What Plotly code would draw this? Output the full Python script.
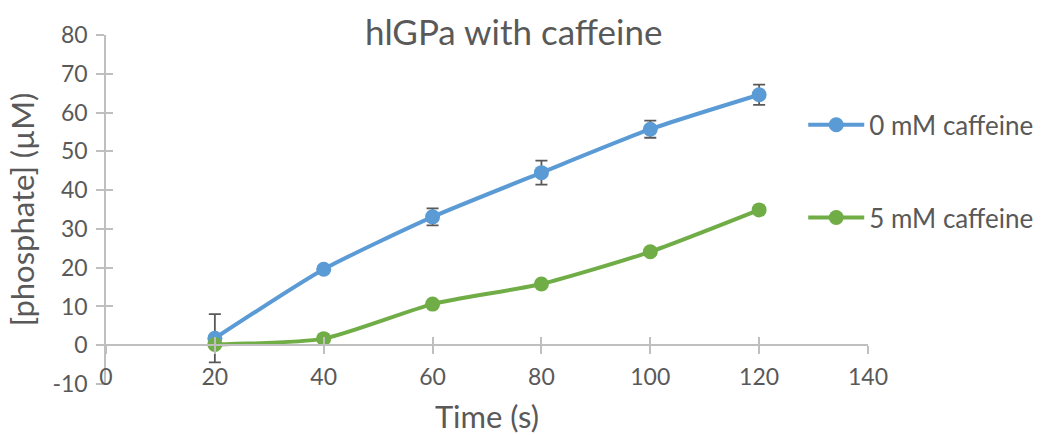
import plotly.graph_objects as go

# Reaction time points (s)
time_s = [20, 40, 60, 80, 100, 120]

# Released phosphate (µM) with standard deviations
phos_0mM = [1.8, 19.6, 33.1, 44.5, 55.7, 64.6]
err_0mM = [6.2, 0.8, 2.2, 3.1, 2.2, 2.6]
phos_5mM = [0.2, 1.7, 10.6, 15.8, 24.1, 34.9]

x_ticks = [0, 20, 40, 60, 80, 100, 120, 140]
y_ticks = [-10, 0, 10, 20, 30, 40, 50, 60, 70, 80]
y_tick_text = ["-10", "0", "10", "20", "30", "40", "50", "60", "70", "80"]

FONT = "Lato, 'Open Sans', sans-serif"
TEXT = "#595959"
AXIS = "#BFBFBF"
X_RANGE = [0, 140]
Y_RANGE = [-10, 80]
ZERO_POS = (0 - Y_RANGE[0]) / (Y_RANGE[1] - Y_RANGE[0])

fig = go.Figure()

fig.add_trace(go.Scatter(
    x=time_s, y=phos_0mM, name="0 mM caffeine", legendgroup="a",
    mode="lines+markers", line=dict(color="#5B9BD5", width=4, shape="spline", smoothing=0.6),
    marker=dict(color="#5B9BD5", size=15),
    error_y=dict(type="data", array=err_0mM, color="#595959", thickness=1.8, width=6),
))
fig.add_trace(go.Scatter(
    x=time_s, y=phos_5mM, name="5 mM caffeine", legendgroup="b",
    mode="lines+markers", line=dict(color="#70AD47", width=4, shape="spline", smoothing=0.6),
    marker=dict(color="#70AD47", size=15),
))

fig.update_layout(
    width=1044, height=435,
    margin=dict(l=106, r=176, t=35, b=51, autoexpand=False),
    paper_bgcolor="white", plot_bgcolor="white",
    font=dict(family=FONT, color=TEXT),
    title=dict(text="hlGPa with caffeine", x=0.492, xanchor="center", y=0.925, yanchor="middle",
               font=dict(size=35, color=TEXT, family=FONT)),
    showlegend=True,
    legend=dict(x=0.915, xanchor="left", y=0.81, yanchor="top", font=dict(size=26, color=TEXT),
                tracegroupgap=56, itemwidth=56, bgcolor="rgba(0,0,0,0)"),
    # main x axis: line through y = 0 with ticks below
    xaxis=dict(range=X_RANGE, tickvals=x_ticks, showticklabels=False, showgrid=False, zeroline=False,
               showline=True, linecolor=AXIS, linewidth=1.5, ticks="outside", ticklen=8,
               tickcolor=AXIS, tickwidth=1.5, anchor="free", position=ZERO_POS),
    # same axis, ticks above the line
    xaxis2=dict(range=X_RANGE, tickvals=x_ticks, showticklabels=False, showgrid=False, zeroline=False,
                showline=False, ticks="inside", ticklen=8, tickcolor=AXIS, tickwidth=1.5,
                overlaying="x", anchor="free", position=ZERO_POS),
    # tick labels at the bottom of the plot area
    xaxis3=dict(range=X_RANGE, tickvals=x_ticks, showticklabels=True, showgrid=False, zeroline=False,
                showline=False, ticks="", tickfont=dict(size=23, color=TEXT),
                overlaying="x", anchor="free", position=0.065,
                title=dict(text="Time (s)", font=dict(size=31, color=TEXT), standoff=17)),
    yaxis=dict(range=Y_RANGE, tickvals=y_ticks, ticktext=y_tick_text, showgrid=False, zeroline=False,
               showline=True, linecolor=AXIS, linewidth=1.5, ticks="outside", ticklen=8,
               tickcolor=AXIS, tickwidth=1.5, tickfont=dict(size=23, color=TEXT),
               ticklabelstandoff=4,
               title=dict(text="[phosphate] (µM)", font=dict(size=31, color=TEXT), standoff=9)),
    yaxis2=dict(range=Y_RANGE, tickvals=y_ticks, showticklabels=False, showgrid=False, zeroline=False,
                showline=False, ticks="inside", ticklen=7, tickcolor=AXIS, tickwidth=1.5,
                overlaying="y", anchor="x"),
)

# invisible anchors so the overlay axes are drawn
fig.add_trace(go.Scatter(x=[None], y=[None], xaxis="x2", yaxis="y2", showlegend=False, hoverinfo="skip"))
fig.add_trace(go.Scatter(x=[None], y=[None], xaxis="x3", yaxis="y", showlegend=False, hoverinfo="skip"))

fig.write_html("out.html")
